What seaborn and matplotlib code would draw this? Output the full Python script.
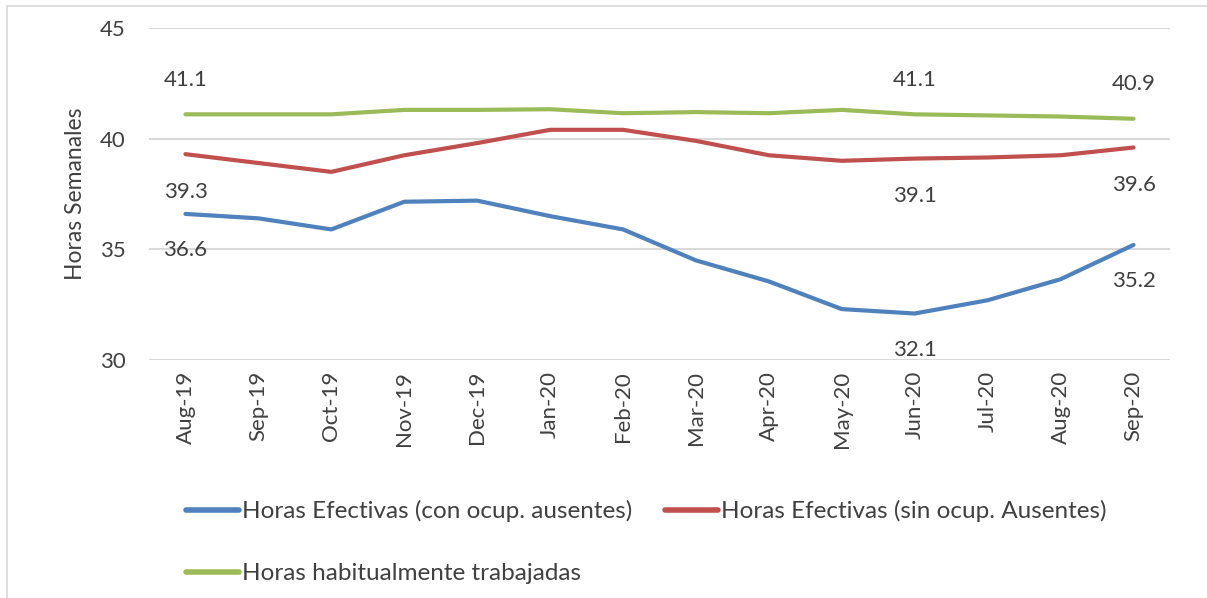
import pandas as pd
import matplotlib.pyplot as plt
import seaborn as sns
from matplotlib.patches import Rectangle

# Data
months = ['Aug-19', 'Sep-19', 'Oct-19', 'Nov-19', 'Dec-19', 'Jan-20', 'Feb-20',
          'Mar-20', 'Apr-20', 'May-20', 'Jun-20', 'Jul-20', 'Aug-20', 'Sep-20']
con_ausentes = [36.6, 36.4, 35.9, 37.15, 37.2, 36.5, 35.9,
                34.5, 33.55, 32.3, 32.1, 32.7, 33.65, 35.2]
sin_ausentes = [39.3, 38.9, 38.5, 39.25, 39.8, 40.4, 40.4,
                39.9, 39.25, 39.0, 39.1, 39.15, 39.25, 39.6]
habituales = [41.1, 41.1, 41.1, 41.3, 41.3, 41.33, 41.15,
              41.2, 41.15, 41.3, 41.1, 41.05, 41.0, 40.9]

names = ['Horas Efectivas (con ocup. ausentes)',
         'Horas Efectivas (sin ocup. Ausentes)',
         'Horas habitualmente trabajadas']
colors = ['#4f81bd', '#c0504d', '#9bbb59']
labelled = ['Aug-19', 'Jun-20', 'Sep-20']

# Long-form table for seaborn
df = pd.DataFrame({
    'mes': months * 3,
    'x': list(range(len(months))) * 3,
    'horas': con_ausentes + sin_ausentes + habituales,
    'serie': [names[0]] * len(months) + [names[1]] * len(months) + [names[2]] * len(months),
})

sns.set_style('white')
plt.rcParams['font.family'] = ['Lato', 'DejaVu Sans']
text_col = '#404040'

fig = plt.figure(figsize=(12.07, 5.98), dpi=100)
ax = fig.add_axes([149 / 1207, 1 - 360 / 598, (1170 - 149) / 1207, (360 - 28) / 598])

sns.lineplot(data=df, x='x', y='horas', hue='serie', hue_order=names,
             palette=colors, linewidth=3, ax=ax, legend=False,
             solid_capstyle='round')

# Data labels: green above, the others below
for name, vals, dy in zip(names, [con_ausentes, sin_ausentes, habituales], [-26, -27, 25]):
    for m in labelled:
        i = months.index(m)
        ax.annotate(f'{vals[i]:.1f}', (i, vals[i]), xytext=(0, dy),
                    textcoords='offset points', ha='center', va='center',
                    fontsize=16, color=text_col)

ax.set_xlim(-0.5, len(months) - 0.5)
ax.set_ylim(30, 45)
ax.set_yticks([30, 35, 40, 45])
ax.set_xticks(range(len(months)))
ax.set_xticklabels(months, rotation=90)
ax.tick_params(axis='both', length=0, labelsize=16, colors=text_col)
ax.tick_params(axis='y', pad=17)
ax.tick_params(axis='x', pad=8)
ax.set_xlabel('')
ax.set_ylabel('Horas Semanales', fontsize=16.5, color=text_col, labelpad=10)
ax.grid(axis='y', color='#d9d9d9', linewidth=1.5)
for s in ax.spines.values():
    s.set_visible(False)

# Legend laid out like the original: two entries on the first row, one below
handles = [plt.Line2D([], [], color=c, linewidth=4, solid_capstyle='round') for c in colors]
order = [0, 2, 1]
fig.legend([handles[k] for k in order], [names[k] for k in order],
           loc='upper left', bbox_to_anchor=(186 / 1207, 1 - 500 / 598),
           ncol=2, frameon=False, fontsize=17.5, handlelength=2.2,
           handletextpad=0.1, columnspacing=1.35, labelspacing=1.7,
           borderpad=0, borderaxespad=0, labelcolor=text_col)

# Light chart-area border
fig.patches.append(Rectangle((7 / 1207, -0.05), 1.1, 1 - 6 / 598 + 0.05,
                             transform=fig.transFigure, fill=False,
                             edgecolor='#d9d9d9', linewidth=1.2))

plt.savefig('out.png', dpi=100)
